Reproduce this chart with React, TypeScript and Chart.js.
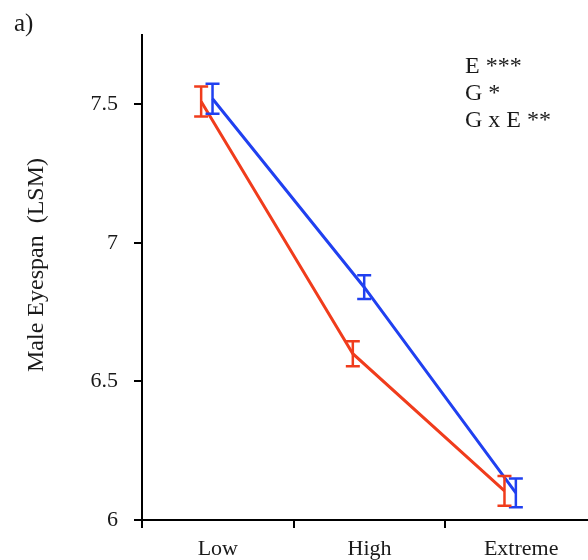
import { useEffect, useRef } from 'react';
import { Chart, registerables } from 'chart.js';

Chart.register(...registerables);

// ---- data ----
const categories = ['Low', 'High', 'Extreme'];
const redMeans = [7.51, 6.6, 6.105];
const redErrors = [0.054, 0.045, 0.054];
const blueMeans = [7.52, 6.84, 6.098];
const blueErrors = [0.054, 0.043, 0.052];
const yTicks = [6, 6.5, 7, 7.5];
const annotations = ['E ***', 'G *', 'G x E **'];
const panelLabel = 'a)';
const yTitle = 'Male Eyespan  (LSM)';

// horizontal dodge of each series inside its category (category units)
const redShift = -0.11;
const blueShift = -0.035;

const FAMILY = "'Liberation Serif', 'Times New Roman', serif";
const RED = '#f03c1c';
const BLUE = '#2040f0';
const TEXT = '#1a1a1a';

const errorBarPlugin = {
  id: 'errorBars',
  afterDatasetsDraw(chart: any) {
    const ctx = chart.ctx;
    const xs = chart.scales.x;
    const ys = chart.scales.y;
    chart.data.datasets.forEach((ds: any) => {
      ctx.save();
      ctx.strokeStyle = ds.borderColor;
      ctx.lineWidth = 2.5;
      ds.data.forEach((p: any, i: number) => {
        const e = ds.errors[i];
        const x = xs.getPixelForValue(p.x);
        const yt = ys.getPixelForValue(p.y + e);
        const yb = ys.getPixelForValue(p.y - e);
        ctx.beginPath();
        ctx.moveTo(x, yt);
        ctx.lineTo(x, yb);
        ctx.moveTo(x - 7, yt);
        ctx.lineTo(x + 7, yt);
        ctx.moveTo(x - 7, yb);
        ctx.lineTo(x + 7, yb);
        ctx.stroke();
      });
      ctx.restore();
    });
  },
};

const textPlugin = {
  id: 'panelText',
  afterDraw(chart: any) {
    const ctx = chart.ctx;
    ctx.save();
    ctx.fillStyle = TEXT;
    ctx.textAlign = 'left';
    ctx.textBaseline = 'alphabetic';
    ctx.font = `24px ${FAMILY}`;
    annotations.forEach((t, i) => ctx.fillText(t, 465, 73 + i * 27));
    ctx.font = `25px ${FAMILY}`;
    ctx.fillText(panelLabel, 14, 31);
    // y-axis title, rotated
    ctx.font = `24px ${FAMILY}`;
    ctx.translate(43, 265);
    ctx.rotate(-Math.PI / 2);
    ctx.textAlign = 'center';
    ctx.fillText(yTitle, 0, 0);
    ctx.restore();
  },
};

export default function App() {
  const ref = useRef<HTMLCanvasElement>(null);
  useEffect(() => {
    const chart = new Chart(ref.current as HTMLCanvasElement, {
      type: 'line',
      data: {
        datasets: [
          {
            label: 'Blue',
            data: blueMeans.map((y, i) => ({ x: i + 0.5 + blueShift, y })),
            errors: blueErrors,
            borderColor: BLUE,
            borderWidth: 3,
            pointRadius: 0,
            fill: false,
            tension: 0,
          } as any,
          {
            label: 'Red',
            data: redMeans.map((y, i) => ({ x: i + 0.5 + redShift, y })),
            errors: redErrors,
            borderColor: RED,
            borderWidth: 3,
            pointRadius: 0,
            fill: false,
            tension: 0,
          } as any,
        ],
      },
      options: {
        responsive: false,
        animation: false,
        events: [],
        layout: { padding: { left: 0, top: 35, right: 3, bottom: 0 } },
        plugins: {
          legend: { display: false },
          tooltip: { enabled: false },
        },
        scales: {
          x: {
            type: 'linear',
            min: 0,
            max: 3,
            afterBuildTicks: (axis: any) => {
              axis.ticks = categories.map((_, i) => ({ value: i + 0.5 }));
            },
            afterFit: (axis: any) => {
              axis.height = 40;
            },
            ticks: {
              autoSkip: false,
              maxRotation: 0,
              padding: 8,
              color: TEXT,
              font: { family: FAMILY, size: 22 },
              callback: (_v: any, i: number) => categories[i],
            },
            grid: {
              offset: true,
              drawOnChartArea: false,
              tickLength: 8,
              color: '#000',
              lineWidth: 2,
            },
            border: { color: '#000', width: 2 },
          },
          y: {
            min: 6,
            max: 7.75,
            afterBuildTicks: (axis: any) => {
              axis.ticks = yTicks.map((v) => ({ value: v }));
            },
            afterFit: (axis: any) => {
              axis.width = 142;
            },
            ticks: {
              padding: 16,
              color: TEXT,
              font: { family: FAMILY, size: 22 },
              callback: (v: any) => String(v),
            },
            grid: {
              drawOnChartArea: false,
              tickLength: 8,
              color: '#000',
              lineWidth: 2,
            },
            border: { color: '#000', width: 2 },
          },
        },
      } as any,
      plugins: [errorBarPlugin, textPlugin],
    });
    return () => chart.destroy();
  }, []);

  return (
    <div
      style={{
        position: 'absolute',
        left: 0,
        top: 0,
        width: 588,
        height: 560,
        overflow: 'hidden',
        background: '#fff',
      }}
    >
      <canvas ref={ref} width={600} height={560} style={{ display: 'block' }} />
    </div>
  );
}
